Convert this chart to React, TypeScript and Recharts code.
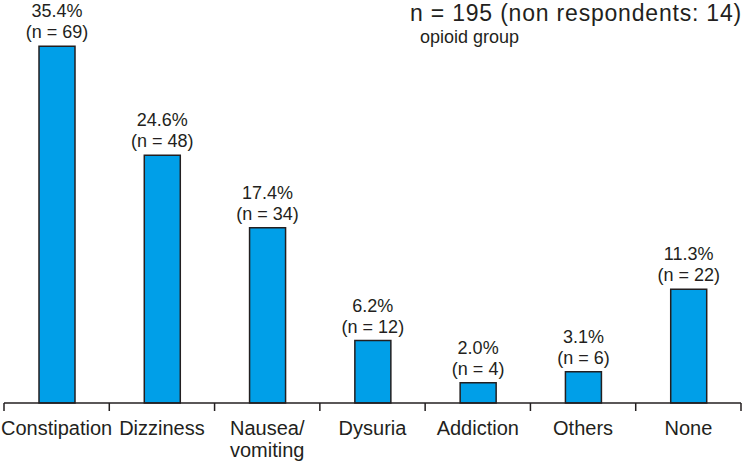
import { Bar, BarChart, LabelList, XAxis, YAxis } from "recharts";

const categories = ["Constipation", "Dizziness", "Nausea/\nvomiting", "Dysuria", "Addiction", "Others", "None"];
const percents = [35.4, 24.6, 17.4, 6.2, 2.0, 3.1, 11.3];
const counts = [69, 48, 34, 12, 4, 6, 22];

const data = categories.map((name, i) => ({ name, pct: percents[i], n: counts[i] }));

const WIDTH = 744;
const HEIGHT = 466;
const MARGIN = { top: 0, right: 3, bottom: 0, left: 4 };
const BAND = (WIDTH - MARGIN.left - MARGIN.right) / categories.length;
const INK = "#231f20";
const FONT = "'Liberation Sans', Arial, sans-serif";

const CategoryTick = (props: any) => {
  const { x, y, payload, index } = props;
  const lines = String(payload.value).split("\n");
  return (
    <g>
      <line x1={x - BAND / 2} x2={x - BAND / 2} y1={y} y2={y + 8} stroke={INK} strokeWidth={1.5} />
      {index === categories.length - 1 && (
        <line x1={x + BAND / 2} x2={x + BAND / 2} y1={y} y2={y + 8} stroke={INK} strokeWidth={1.5} />
      )}
      {lines.map((line, i) => (
        <text key={i} x={x} y={y + 32 + i * 22} textAnchor="middle" fontSize={20} fill={INK} fontFamily={FONT}>
          {line}
        </text>
      ))}
    </g>
  );
};

const ValueLabel = (props: any) => {
  const { x, y, width, index } = props;
  const cx = x + width / 2;
  return (
    <g>
      <text x={cx} y={y - 29} textAnchor="middle" fontSize={18} fill={INK} fontFamily={FONT}>
        {percents[index].toFixed(1)}%
      </text>
      <text x={cx} y={y - 8} textAnchor="middle" fontSize={18} fill={INK} fontFamily={FONT}>
        (n = {counts[index]})
      </text>
    </g>
  );
};

export default function App() {
  return (
    <div style={{ position: "fixed", left: 0, top: 0, width: WIDTH, height: HEIGHT, background: "#fff" }}>
      <BarChart width={WIDTH} height={HEIGHT} data={data} margin={MARGIN}>
        <YAxis hide domain={[0, 40]} />
        <XAxis
          dataKey="name"
          interval={0}
          tickLine={false}
          tickSize={0}
          tickMargin={0}
          height={63}
          axisLine={{ stroke: INK, strokeWidth: 1.5 }}
          tick={<CategoryTick />}
        />
        <Bar dataKey="pct" barSize={36} fill="#009fe8" stroke={INK} strokeWidth={1.5} isAnimationActive={false}>
          <LabelList dataKey="pct" content={<ValueLabel />} />
        </Bar>
      </BarChart>
      <svg width={WIDTH} height={50} style={{ position: "absolute", left: 0, top: 0, pointerEvents: "none" }}>
        <text x={742} y={21} textAnchor="end" fontSize={23} letterSpacing={0.8} fill={INK} fontFamily={FONT}>
          n = 195 (non respondents: 14)
        </text>
        <text x={420} y={43} fontSize={18} fill={INK} fontFamily={FONT}>
          opioid group
        </text>
      </svg>
    </div>
  );
}
